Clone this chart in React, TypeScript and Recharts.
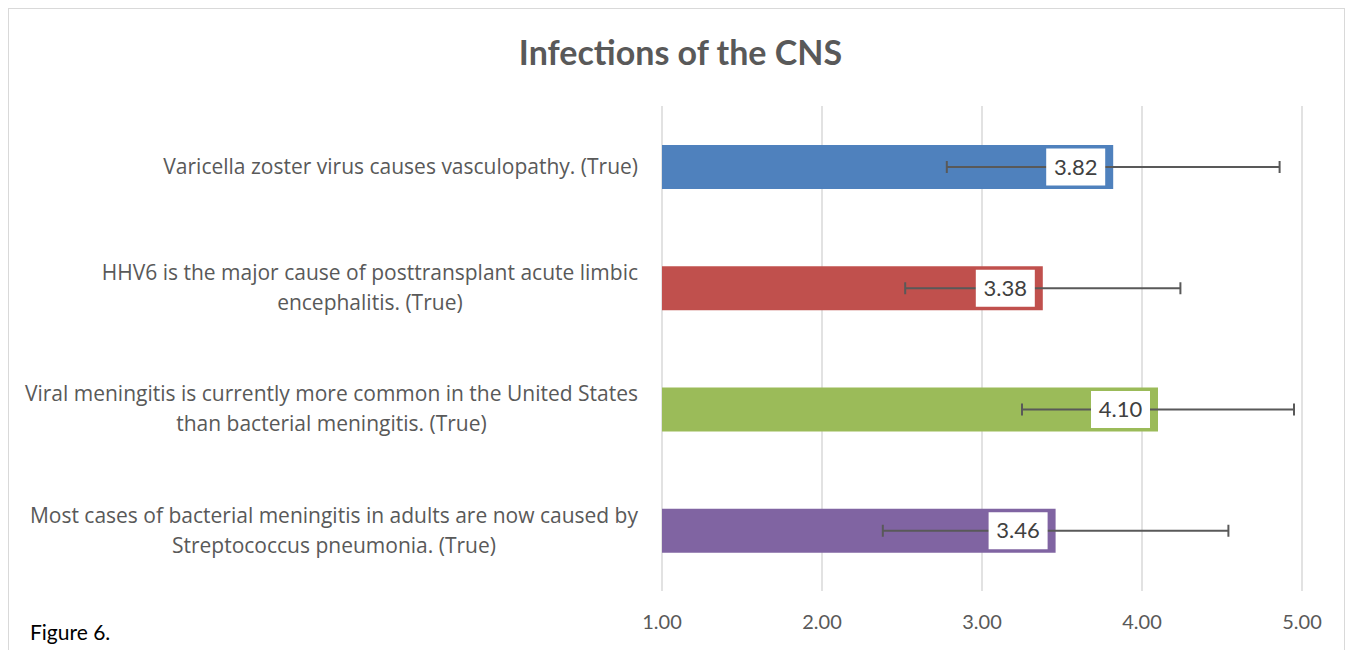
import { BarChart, Bar, XAxis, YAxis, CartesianGrid, Cell, ErrorBar, LabelList } from 'recharts'

const statements = [
  ['Varicella zoster virus causes vasculopathy. (True)'],
  ['HHV6 is the major cause of posttransplant acute limbic', 'encephalitis. (True)'],
  ['Viral meningitis is currently more common in the United States', 'than bacterial meningitis. (True)'],
  ['Most cases of bacterial meningitis in adults are now caused by', 'Streptococcus pneumonia. (True)'],
]
const means = [3.82, 3.38, 4.1, 3.46]
const errors = [1.04, 0.86, 0.85, 1.08]
const xTicks = [1, 2, 3, 4, 5]

const COLORS = ['#4F81BD', '#C0504D', '#9BBB59', '#8064A2']
const FONT = 'Lato, "Open Sans", sans-serif'
const LABEL_FONT = '"Open Sans", Lato, sans-serif'
const TICK_FONT_SIZE = 21

const data = statements.map((lines, i) => ({
  name: lines.join(' '),
  lines,
  value: means[i],
  err: errors[i],
}))

let canvasCtx: CanvasRenderingContext2D | null = null
function textWidth(s: string) {
  if (!canvasCtx) canvasCtx = document.createElement('canvas').getContext('2d')
  if (!canvasCtx) return s.length * 9.5
  canvasCtx.font = `${TICK_FONT_SIZE}px "Open Sans"`
  return canvasCtx.measureText(s).width
}

function StatementTick(props: any) {
  const { x, y, payload } = props
  const item = data.find((d) => d.name === payload.value)
  const lines = item ? item.lines : [payload.value]
  const right = x - 16
  const blockW = Math.max(...lines.map(textWidth))
  const cx = right - blockW / 2
  const lineH = 30
  const top = y - ((lines.length - 1) * lineH) / 2
  return (
    <g>
      {lines.map((l: string, i: number) => (
        <text
          key={i}
          x={cx}
          y={top + i * lineH}
          dy="0.35em"
          textAnchor="middle"
          fill="#595959"
          fontSize={TICK_FONT_SIZE}
          fontFamily={LABEL_FONT}
        >
          {l}
        </text>
      ))}
    </g>
  )
}

function ValueBox(props: any) {
  const { x, y, width, height, value } = props
  const w = 59
  const h = 37
  const bx = x + width - 8 - w
  const by = y + height / 2 - h / 2
  return (
    <g>
      <rect x={bx} y={by} width={w} height={h} fill="#ffffff" />
      <text
        x={bx + w / 2}
        y={by + h / 2}
        dy="0.35em"
        textAnchor="middle"
        fill="#404040"
        fontSize={22}
        fontFamily={FONT}
      >
        {Number(value).toFixed(2)}
      </text>
    </g>
  )
}

export default function App() {
  return (
    <div
      style={{
        position: 'relative',
        width: 1337,
        height: 660,
        border: '1px solid #d9d9d9',
        boxSizing: 'border-box',
        fontFamily: FONT,
        background: '#fff',
      }}
    >
      <div
        style={{
          position: 'absolute',
          top: 22,
          left: 4,
          width: '100%',
          textAlign: 'center',
          fontSize: 34,
          fontWeight: 'bold',
          color: '#595959',
        }}
      >
        Infections of the CNS
      </div>
      <div style={{ position: 'absolute', left: 21, top: 610, fontSize: 21, color: '#000' }}>Figure 6.</div>
      <BarChart
        width={1337}
        height={642}
        data={data}
        layout="vertical"
        margin={{ top: 97, right: 44, left: 0, bottom: 20 }}
      >
        <CartesianGrid horizontal={false} stroke="#d9d9d9" strokeWidth={1.5} />
        <XAxis
          type="number"
          domain={[1, 5]}
          ticks={xTicks}
          tickFormatter={(v: number) => v.toFixed(2)}
          axisLine={false}
          tickLine={false}
          tickMargin={18}
          height={40}
          tick={{ fill: '#595959', fontSize: 20, fontFamily: FONT }}
        />
        <YAxis
          type="category"
          dataKey="name"
          width={653}
          axisLine={false}
          tickLine={false}
          tick={<StatementTick />}
          interval={0}
        />
        <Bar dataKey="value" barSize={44} isAnimationActive={false}>
          {data.map((_, i) => (
            <Cell key={`cell-${i}`} fill={COLORS[i % COLORS.length]} />
          ))}
          <LabelList dataKey="value" content={<ValueBox />} />
          <ErrorBar dataKey="err" direction="x" width={6} stroke="#595959" strokeWidth={2} />
        </Bar>
      </BarChart>
    </div>
  )
}
